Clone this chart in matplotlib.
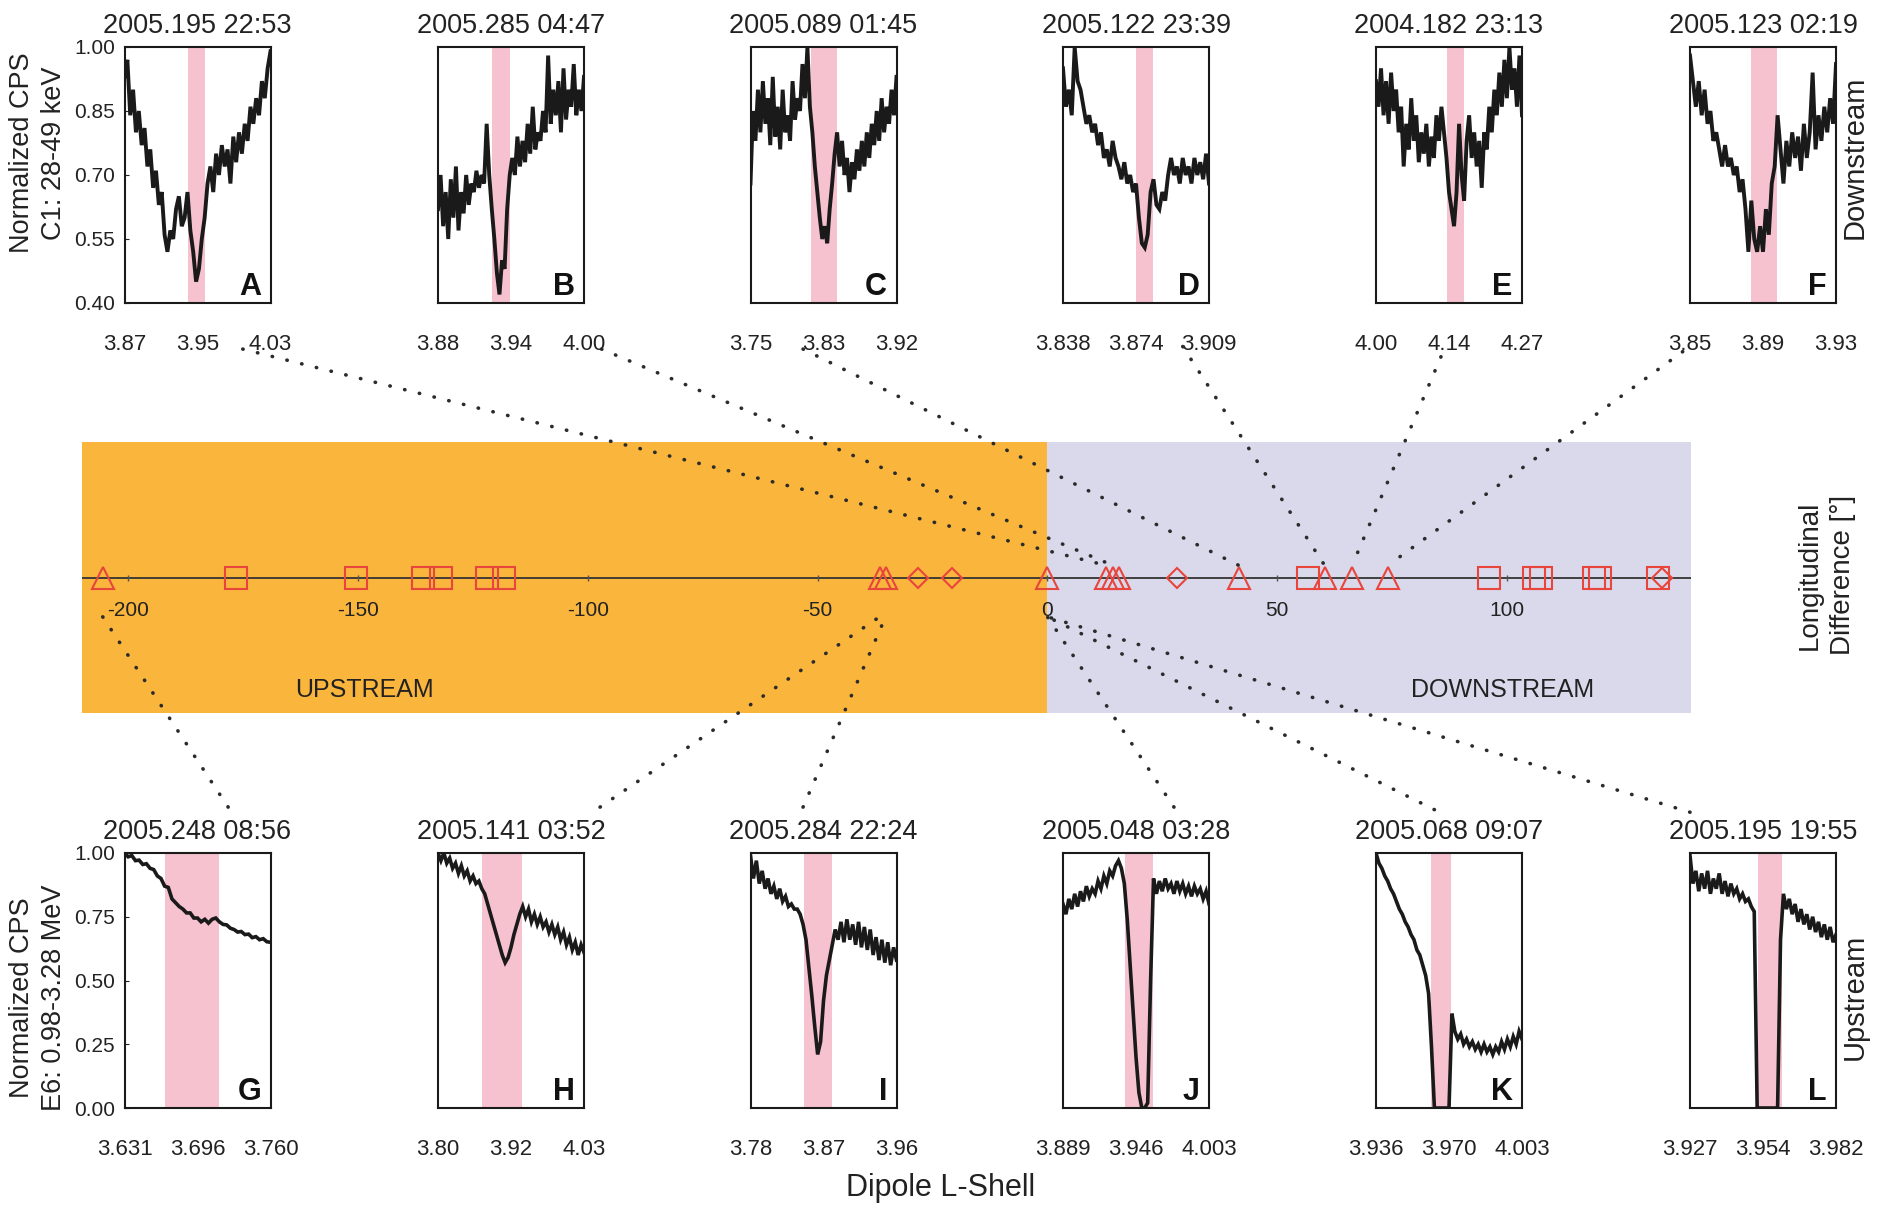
import numpy as np
import matplotlib
matplotlib.use("Agg")
import matplotlib.pyplot as plt
from matplotlib.patches import ConnectionPatch

plt.rcParams['font.family'] = ['Liberation Sans', 'DejaVu Sans']
plt.rcParams['text.color'] = '#222222'
plt.rcParams['xtick.color'] = '#222222'
plt.rcParams['ytick.color'] = '#222222'

# ---------------- event panels ----------------
panel_letters = list("ABCDEFGHIJKL")
panel_titles = ["2005.195 22:53", "2005.285 04:47", "2005.089 01:45",
                "2005.122 23:39", "2004.182 23:13", "2005.123 02:19",
                "2005.248 08:56", "2005.141 03:52", "2005.284 22:24",
                "2005.048 03:28", "2005.068 09:07", "2005.195 19:55"]
lshell_ticks = [["3.87", "3.95", "4.03"], ["3.88", "3.94", "4.00"],
                ["3.75", "3.83", "3.92"], ["3.838", "3.874", "3.909"],
                ["4.00", "4.14", "4.27"], ["3.85", "3.89", "3.93"],
                ["3.631", "3.696", "3.760"], ["3.80", "3.92", "4.03"],
                ["3.78", "3.87", "3.96"], ["3.889", "3.946", "4.003"],
                ["3.936", "3.970", "4.003"], ["3.927", "3.954", "3.982"]]
pink_bands = [(3.940, 3.958), (3.9246, 3.9392), (3.821, 3.851),
              (3.8735, 3.8818), (4.132, 4.163), (3.8834, 3.8979),
              (3.6669, 3.7145), (3.8686, 3.9323), (3.846, 3.880),
              (3.9371, 3.9596), (3.9614, 3.9702), (3.9527, 3.9618)]

c1_yticks = [0.40, 0.55, 0.70, 0.85, 1.00]
c1_yticklabels = ["0.40", "0.55", "0.70", "0.85", "1.00"]
e6_yticks = [0.0, 0.25, 0.50, 0.75, 1.00]
e6_yticklabels = ["0.00", "0.25", "0.50", "0.75", "1.00"]

# normalized count rates, sampled evenly across each panel's L-shell range
curve_a = [0.93, 0.97, 0.84, 0.90, 0.80, 0.85, 0.77, 0.81, 0.72, 0.76, 0.67, 0.71,
           0.63, 0.66, 0.56, 0.52, 0.57, 0.55, 0.62, 0.65, 0.58, 0.60, 0.66, 0.57,
           0.52, 0.45, 0.48, 0.55, 0.60, 0.68, 0.72, 0.66, 0.75, 0.70, 0.77, 0.72,
           0.76, 0.68, 0.79, 0.73, 0.80, 0.75, 0.82, 0.78, 0.86, 0.82, 0.88, 0.84,
           0.92, 0.88, 0.95, 0.99]
curve_b = [0.62, 0.70, 0.58, 0.66, 0.55, 0.69, 0.60, 0.72, 0.57, 0.66, 0.61, 0.70,
           0.63, 0.68, 0.66, 0.71, 0.67, 0.70, 0.68, 0.82, 0.70, 0.62, 0.55, 0.47,
           0.42, 0.50, 0.48, 0.62, 0.70, 0.74, 0.70, 0.79, 0.72, 0.78, 0.73, 0.82,
           0.75, 0.86, 0.76, 0.80, 0.78, 0.85, 0.80, 0.98, 0.82, 0.90, 0.84, 0.92,
           0.80, 0.95, 0.83, 0.90, 0.86, 0.96, 0.84, 0.90, 0.85, 0.93]
curve_c = [0.68, 0.85, 0.78, 0.90, 0.80, 0.92, 0.82, 0.88, 0.77, 0.93, 0.79, 0.86,
           0.76, 0.90, 0.80, 0.84, 0.78, 0.92, 0.83, 0.88, 0.85, 0.96, 0.88, 1.00,
           0.86, 0.80, 0.72, 0.66, 0.60, 0.55, 0.58, 0.54, 0.62, 0.68, 0.75, 0.80,
           0.72, 0.78, 0.70, 0.74, 0.66, 0.73, 0.69, 0.76, 0.71, 0.78, 0.72, 0.80,
           0.74, 0.82, 0.77, 0.85, 0.78, 0.88, 0.80, 0.86, 0.82, 0.90, 0.84, 0.93]
curve_d = [0.95, 0.86, 0.90, 0.84, 1.00, 0.92, 0.90, 0.86, 0.82, 0.84, 0.80, 0.82,
           0.77, 0.80, 0.74, 0.76, 0.72, 0.78, 0.74, 0.72, 0.69, 0.73, 0.68, 0.70,
           0.66, 0.68, 0.60, 0.54, 0.53, 0.56, 0.66, 0.69, 0.63, 0.62, 0.66, 0.64,
           0.70, 0.74, 0.70, 0.72, 0.68, 0.74, 0.70, 0.72, 0.68, 0.74, 0.70, 0.73,
           0.69, 0.75, 0.68]
curve_e = [0.92, 0.86, 0.95, 0.84, 0.92, 0.82, 0.94, 0.85, 0.90, 0.80, 0.86, 0.72,
           0.82, 0.76, 0.88, 0.78, 0.84, 0.73, 0.80, 0.75, 0.82, 0.72, 0.79, 0.74,
           0.84, 0.78, 0.86, 0.80, 0.74, 0.66, 0.62, 0.58, 0.66, 0.82, 0.70, 0.64,
           0.78, 0.84, 0.74, 0.80, 0.72, 0.78, 0.67, 0.80, 0.76, 0.86, 0.80, 0.90,
           0.84, 0.94, 0.86, 0.97, 0.88, 1.00, 0.90, 0.95, 0.86, 0.98, 0.84]
curve_f = [0.98, 0.92, 0.86, 0.92, 0.84, 0.90, 0.82, 0.85, 0.78, 0.80, 0.76, 0.72,
           0.77, 0.72, 0.74, 0.70, 0.72, 0.66, 0.69, 0.62, 0.52, 0.64, 0.55, 0.52,
           0.58, 0.52, 0.62, 0.56, 0.68, 0.72, 0.84, 0.76, 0.68, 0.78, 0.72, 0.80,
           0.74, 0.79, 0.71, 0.82, 0.74, 0.80, 0.94, 0.76, 0.84, 0.78, 0.86, 0.80,
           0.88, 0.82, 0.96]
curve_g = [1.00, 0.985, 0.99, 0.97, 0.972, 0.955, 0.958, 0.94, 0.935, 0.91, 0.90,
           0.87, 0.865, 0.82, 0.805, 0.79, 0.78, 0.765, 0.765, 0.745, 0.745, 0.73,
           0.74, 0.725, 0.74, 0.745, 0.73, 0.72, 0.718, 0.705, 0.70, 0.69, 0.692,
           0.68, 0.682, 0.668, 0.672, 0.66, 0.664, 0.652, 0.65]
curve_h = [1.00, 0.97, 1.00, 0.96, 0.98, 0.94, 0.96, 0.92, 0.95, 0.91, 0.93, 0.89,
           0.91, 0.88, 0.89, 0.86, 0.84, 0.80, 0.76, 0.72, 0.68, 0.64, 0.60, 0.57,
           0.59, 0.63, 0.68, 0.72, 0.76, 0.79, 0.75, 0.78, 0.73, 0.76, 0.72, 0.75,
           0.71, 0.73, 0.69, 0.72, 0.68, 0.71, 0.66, 0.69, 0.64, 0.67, 0.62, 0.65,
           0.60, 0.64, 0.61]
curve_i = [0.99, 0.90, 0.97, 0.88, 0.93, 0.86, 0.90, 0.84, 0.87, 0.82, 0.86, 0.81,
           0.83, 0.79, 0.80, 0.78, 0.78, 0.76, 0.72, 0.66, 0.55, 0.44, 0.32, 0.21,
           0.26, 0.42, 0.52, 0.58, 0.64, 0.70, 0.66, 0.73, 0.65, 0.74, 0.66, 0.72,
           0.64, 0.73, 0.63, 0.71, 0.62, 0.70, 0.60, 0.67, 0.58, 0.66, 0.57, 0.65,
           0.56, 0.63, 0.58]
curve_j = [0.80, 0.76, 0.82, 0.78, 0.84, 0.79, 0.85, 0.81, 0.87, 0.83, 0.86, 0.84,
           0.89, 0.86, 0.91, 0.88, 0.93, 0.91, 0.95, 0.97, 0.94, 0.88, 0.74, 0.56,
           0.38, 0.20, 0.06, 0.00, 0.00, 0.02, 0.50, 0.90, 0.84, 0.89, 0.85, 0.90,
           0.86, 0.88, 0.84, 0.89, 0.85, 0.88, 0.84, 0.87, 0.83, 0.87, 0.84, 0.86,
           0.82, 0.85, 0.80]
curve_k = [1.00, 0.96, 0.94, 0.91, 0.89, 0.86, 0.84, 0.81, 0.78, 0.76, 0.73, 0.71,
           0.68, 0.66, 0.62, 0.60, 0.56, 0.52, 0.45, 0.24, 0.00, 0.00, 0.00, 0.00,
           0.00, 0.00, 0.37, 0.30, 0.27, 0.29, 0.25, 0.27, 0.24, 0.26, 0.23, 0.25,
           0.22, 0.25, 0.22, 0.24, 0.21, 0.24, 0.22, 0.26, 0.23, 0.27, 0.24, 0.28,
           0.25, 0.30, 0.27]
curve_l = [0.99, 0.88, 0.93, 0.85, 0.92, 0.86, 0.93, 0.84, 0.90, 0.86, 0.92, 0.84,
           0.89, 0.83, 0.88, 0.84, 0.86, 0.82, 0.84, 0.81, 0.82, 0.79, 0.77, 0.00,
           0.00, 0.00, 0.00, 0.00, 0.00, 0.00, 0.00, 0.66, 0.84, 0.78, 0.82, 0.76,
           0.80, 0.73, 0.78, 0.72, 0.76, 0.70, 0.75, 0.69, 0.73, 0.67, 0.72, 0.66,
           0.71, 0.65, 0.68]
curves = [curve_a, curve_b, curve_c, curve_d, curve_e, curve_f,
          curve_g, curve_h, curve_i, curve_j, curve_k, curve_l]

# ---------------- longitudinal difference strip ----------------
strip_ticks = [-200, -150, -100, -50, 0, 50, 100]
triangle_lon = [-205.5, -36.5, -35.2, 0.0, 12.7, 14.2, 15.5, 41.6, 60.3, 66.3, 74.1]
square_lon = [-176.4, -150.4, -135.8, -131.9, -121.9, -118.1, 56.6, 96.0,
              105.8, 107.3, 118.8, 120.3, 132.8]
diamond_lon = [-28.1, -20.8, 28.3, 133.8]
# longitude of the event shown in each panel A..L
event_lon = [12.7, 14.2, 41.6, 60.3, 66.3, 74.1, -205.5, -36.5, -35.2, 0.0, 0.0, 0.0]
# where each leader line meets its panel (axes fraction)
leader_anchor = [(0.81, -0.18), (1.12, -0.18), (0.36, -0.18),
                 (0.82, -0.17), (0.445, -0.21), (-0.05, -0.19),
                 (0.71, 1.18), (1.11, 1.18), (0.36, 1.18),
                 (0.76, 1.18), (0.40, 1.17), (0.0, 1.16)]

W, H = 1880, 1206
fig = plt.figure(figsize=(W / 100, H / 100), dpi=100)

orange = '#F9B53C'
lavender = '#DAD8EB'
pink = '#F7C2CF'
red = '#E8463C'
ink = '#222222'

col_left = [124.5, 438, 750.5, 1063, 1376, 1690]
panel_w = 146
row_span = [(47, 303), (853, 1108)]

panel_axes = []
for i, letter in enumerate(panel_letters):
    row, col = divmod(i, 6)
    top, bot = row_span[row]
    ax = fig.add_axes([col_left[col] / W, 1 - bot / H, panel_w / W, (bot - top) / H])
    panel_axes.append(ax)
    labels = lshell_ticks[i]
    lo, hi = float(labels[0]), float(labels[2])
    x = np.linspace(lo, hi, len(curves[i]))
    ax.axvspan(*pink_bands[i], color=pink, lw=0, zorder=0)
    ax.plot(x, curves[i], color='#1a1a1a', lw=2.8 if row == 0 else 2.6,
            zorder=2, solid_joinstyle='miter')
    ax.set_xlim(lo, hi)
    ax.set_xticks([lo, (lo + hi) / 2, hi])
    ax.set_xticklabels(labels)
    if row == 0:
        ax.set_ylim(0.40, 1.00)
    else:
        ax.set_ylim(0.0, 1.0)
    if col == 0:
        if row == 0:
            ax.set_yticks(c1_yticks)
            ax.set_yticklabels(c1_yticklabels)
        else:
            ax.set_yticks(e6_yticks)
            ax.set_yticklabels(e6_yticklabels)
        ax.tick_params(axis='y', direction='in', length=3, width=0.8,
                       labelsize=15, pad=7)
    else:
        ax.set_yticks([])
    ax.tick_params(axis='x', length=0, labelsize=16, pad=22)
    for sp in ax.spines.values():
        sp.set_linewidth(1.5)
        sp.set_color('#1a1a1a')
    ax.set_title(panel_titles[i], fontsize=19.5, pad=10, color=ink)
    ax.text(0.935, 0.031, letter, transform=ax.transAxes, ha='right',
            va='baseline', fontsize=22, fontweight='bold', color='#111111')

sx = fig.add_axes([82 / W, 1 - 713 / H, (1691 - 82) / W, 271 / H])
sx.set_xlim(-210, 140)
sx.set_ylim(-1, 1)
sx.axvspan(-210, 0, color=orange, lw=0, zorder=0)
sx.axvspan(0, 140, color=lavender, lw=0, zorder=0)
sx.axhline(0, color='#333333', lw=1.3, zorder=1)
sx.plot(strip_ticks, [0] * len(strip_ticks), ls='none', marker='|', ms=4,
        mew=1, color='#555555', zorder=1)
sx.axis('off')
zeros = np.zeros
sx.plot(square_lon, zeros(len(square_lon)), ls='none', marker='s', ms=15.5,
        mfc='none', mec=red, mew=1.5, zorder=3)
sx.plot(triangle_lon, zeros(len(triangle_lon)), ls='none', marker='^', ms=16,
        mfc='none', mec=red, mew=1.5, zorder=3)
sx.plot(diamond_lon, zeros(len(diamond_lon)), ls='none', marker='D', ms=10.5,
        mfc='none', mec=red, mew=1.5, zorder=3)
for t in strip_ticks:
    sx.text(t, -0.17, str(t), ha='center', va='top', fontsize=15, color=ink)
sx.text(-148.5, -0.83, "UPSTREAM", ha='center', va='center', fontsize=18, color=ink)
sx.text(99, -0.83, "DOWNSTREAM", ha='center', va='center', fontsize=18, color=ink)

# dotted leader lines from each panel to its event in the strip
for i, ax in enumerate(panel_axes):
    y_end = 0.09 if i < 6 else -0.29
    con = ConnectionPatch(xyA=leader_anchor[i], coordsA=ax.transAxes,
                          xyB=(event_lon[i], y_end), coordsB=sx.transData,
                          color='#2b2b2b', lw=2.6, linestyle=(0, (0.1, 4.1)),
                          capstyle='round', zorder=5)
    fig.add_artist(con)

# axis annotations
fig.text(38 / W, 1 - 153 / H, "Normalized CPS\nC1: 28-49 keV", rotation=90,
         ha='center', va='center', fontsize=19.5, linespacing=1.3, color=ink)
fig.text(38 / W, 1 - 998 / H, "Normalized CPS\nE6: 0.98-3.28 MeV", rotation=90,
         ha='center', va='center', fontsize=19.5, linespacing=1.3, color=ink)
fig.text(1855 / W, 1 - 157 / H, "Downstream", rotation=90, ha='center',
         va='center', fontsize=21, color=ink)
fig.text(1855 / W, 1 - 997 / H, "Upstream", rotation=90, ha='center',
         va='center', fontsize=21, color=ink)
fig.text(1826 / W, 1 - 575 / H, "Longitudinal\nDifference [°]", rotation=90,
         ha='center', va='center', fontsize=20, linespacing=1.35, color=ink)
fig.text(941 / W, 1 - 1188 / H, "Dipole L-Shell", ha='center', va='center',
         fontsize=22, color=ink)

fig.savefig("out.png", dpi=100, facecolor='white')
